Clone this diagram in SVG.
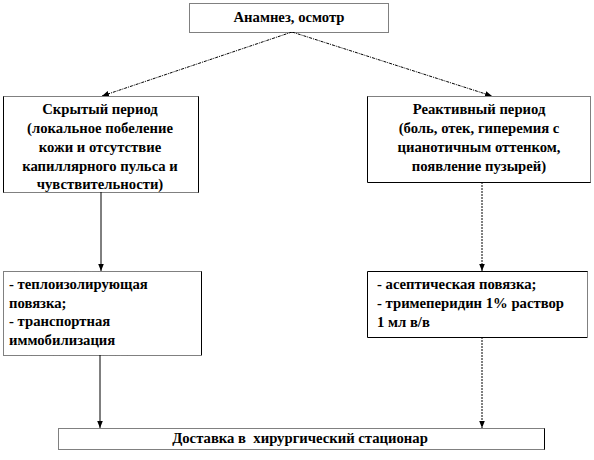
<svg xmlns="http://www.w3.org/2000/svg" width="594" height="460" viewBox="0 0 594 460">
<style>
.bg{fill:#fff;stroke:none}
.sol{fill:none;stroke:#000;stroke-width:1}
.dot{fill:none;stroke:#000;stroke-width:1;stroke-dasharray:1 1}
.t{font-family:"Liberation Serif","Times New Roman",serif;font-weight:bold;font-size:14.7px;fill:#000}
.c{text-anchor:middle}
.ln{fill:none;stroke:#000;stroke-width:1}
.ld{fill:none;stroke:#000;stroke-width:1;stroke-dasharray:2 1}
.ldd{fill:none;stroke:#000;stroke-width:1;stroke-dasharray:3 1 1 1}
</style>
<defs>
<marker id="ah" viewBox="0 0 10 10" refX="10" refY="5" markerWidth="7" markerHeight="7" orient="auto" markerUnits="userSpaceOnUse">
<path d="M0,1 L10,5 L0,9 Z" fill="#000"/>
</marker>
</defs>
<rect width="594" height="460" fill="#fff"/>
<g id="connectors">
<path class="ldd" d="M292,32 L102,96" marker-end="url(#ah)"/>
<path class="ldd" d="M292,32 L492,96" marker-end="url(#ah)"/>
<path class="ln" d="M101,192 L101,271" marker-end="url(#ah)"/>
<path class="ld" d="M482,182 L482,271" marker-end="url(#ah)"/>
<path class="ln" d="M100,355 L100,428" marker-end="url(#ah)"/>
<path class="ld" d="M482,337 L482,428" marker-end="url(#ah)"/>
</g>
<g id="n-anamnez">
<rect class="bg" x="189" y="3" width="199" height="29"/>
<path class="dot" d="M189.5,3.5 H388.5 V32.5 H189.5 Z"/>
<text class="t c" x="289" y="22">Анамнез, осмотр</text>
</g>
<g id="n-latent">
<rect class="bg" x="3" y="96" width="195" height="96"/>
<path class="dot" d="M3.5,96.5 H198.5 M3.5,192.5 H198.5"/>
<path class="sol" d="M3.5,96.5 V192.5 M198.5,96.5 V192.5"/>
<text class="t c" x="100" y="114">Скрытый период</text>
<text class="t c" x="100" y="133">(локальное побеление</text>
<text class="t c" x="100" y="152">кожи и отсутствие</text>
<text class="t c" x="100" y="171">капиллярного пульса и</text>
<text class="t c" x="100" y="189">чувствительности)</text>
</g>
<g id="n-reactive">
<rect class="bg" x="367" y="96" width="223" height="86"/>
<path class="dot" d="M367.5,96.5 H590.5 V182.5"/>
<path class="sol" d="M367.5,96.5 V182.5 H590.5"/>
<text class="t c" x="479" y="114">Реактивный период</text>
<text class="t c" x="479" y="133">(боль, отек, гиперемия с</text>
<text class="t c" x="479" y="152">цианотичным оттенком,</text>
<text class="t c" x="479" y="171">появление пузырей)</text>
</g>
<g id="n-latent-aid">
<rect class="bg" x="3" y="271" width="198" height="84"/>
<path class="dot" d="M201.5,271.5 H3.5 V355.5 H201.5"/>
<path class="sol" d="M201.5,271.5 V355.5"/>
<text class="t" x="9" y="289">- теплоизолирующая</text>
<text class="t" x="9" y="308">повязка;</text>
<text class="t" x="9" y="326">- транспортная</text>
<text class="t" x="9" y="345">иммобилизация</text>
</g>
<g id="n-reactive-aid">
<rect class="bg" x="367" y="271" width="220" height="66"/>
<path class="sol" d="M587.5,271.5 H367.5 V337.5 H587.5"/>
<path class="dot" d="M587.5,271.5 V337.5"/>
<text class="t" x="377" y="289">- асептическая повязка;</text>
<text class="t" x="377" y="308">- тримеперидин 1% раствор</text>
<text class="t" x="377" y="327">1 мл в/в</text>
</g>
<g id="n-delivery">
<rect class="bg" x="58" y="428" width="486" height="21"/>
<path class="dot" d="M544.5,428.5 H58.5 V449.5 H544.5"/>
<path class="sol" d="M544.5,428.5 V449.5"/>
<text class="t c" x="300" y="443" xml:space="preserve">Доставка в  хирургический стационар</text>
</g>
</svg>
